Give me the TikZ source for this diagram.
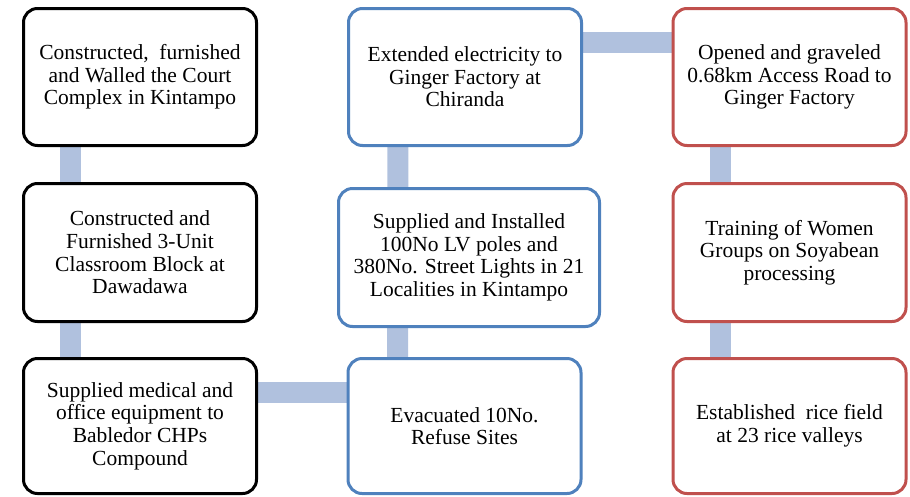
\documentclass[tikz,border=0pt]{standalone}
\usepackage{fontspec}
\setmainfont{Liberation Serif}
\usepackage{xcolor}
\usetikzlibrary{backgrounds}
\definecolor{boxblue}{RGB}{79,129,189}
\definecolor{boxred}{RGB}{192,80,77}
\definecolor{linkblue}{RGB}{176,193,222}

\begin{document}
\begin{tikzpicture}[x=1pt, y=-1pt,
    box/.style={draw, line width=3pt, rounded corners=14pt, fill=white, align=center,
                minimum width=233pt, minimum height=137pt, inner sep=4pt,
                font=\fontsize{21.5}{22.6}\selectfont},
    link/.style={draw=linkblue, line width=21pt}]
\useasboundingbox (0,0) rectangle (910,496);

% left column
\node[box]                        (court)  at (140, 77)   {Constructed,~ furnished\\ and Walled the Court\\ Complex in Kintampo};
\node[box, minimum height=138pt]  (school) at (140, 252.5) {Constructed and\\ Furnished 3-Unit\\ Classroom Block at\\ Dawadawa};
\node[box, minimum height=135pt]  (chps)   at (140, 426)  {Supplied medical and\\ office equipment to\\ Babledor CHPs\\ Compound};

% middle column
\node[box, draw=boxblue]                                          (elec)   at (465, 77)    {Extended electricity to\\ Ginger Factory at\\ Chiranda};
\node[box, draw=boxblue, minimum width=261pt, minimum height=138pt] (lights) at (469, 257.5) {Supplied and Installed\\ 100No LV poles and\\ 380No. Street Lights in 21\\ Localities in Kintampo};
\node[box, draw=boxblue, minimum height=135pt]                     (refuse) at (464.5, 426) {Evacuated 10No.\\ Refuse Sites};

% right column
\node[box, draw=boxred]                        (road)  at (789.5, 77)    {Opened and graveled\\ 0.68km Access Road to\\ Ginger Factory};
\node[box, draw=boxred, minimum height=138pt]  (women) at (789.5, 252.5) {Training of Women\\ Groups on Soyabean\\ processing};
\node[box, draw=boxred, minimum height=135pt]  (rice)  at (789.5, 426)   {Established~ rice field\\ at 23 rice valleys};

\begin{scope}[on background layer]
  \draw[link] ([xshift=-70pt]court.center) -- ([xshift=-70pt]chps.center);
  \draw[link] ([yshift=34pt]chps.center)   -- ([yshift=34pt]refuse.center);
  \draw[link] ([xshift=-67pt]elec.center)  -- ([xshift=-67pt]refuse.center);
  \draw[link] ([yshift=35pt]elec.center)   -- ([yshift=35pt]road.center);
  \draw[link] ([xshift=-69.5pt]road.center) -- ([xshift=-69.5pt]rice.center);
\end{scope}
\end{tikzpicture}
\end{document}
